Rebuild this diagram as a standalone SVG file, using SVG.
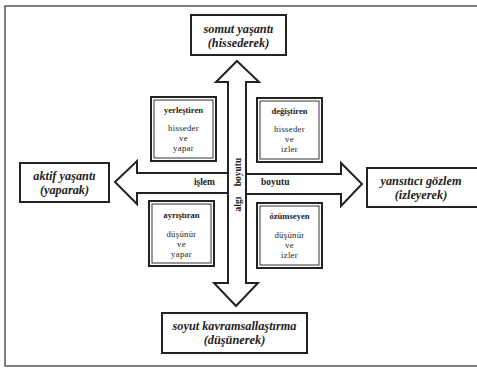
<svg xmlns="http://www.w3.org/2000/svg" width="477" height="369" viewBox="0 0 477 369">
<style>
.frame{fill:none;stroke:#555;stroke-width:1.5}
.box{fill:#fff;stroke:#222;stroke-width:2}
.inner{fill:none;stroke:#333;stroke-width:1}
.arrow{fill:#fff;stroke:#222;stroke-width:2;stroke-linejoin:miter}
text{font-family:"Liberation Serif","Times New Roman","DejaVu Serif",serif;fill:#222}
.main{font-weight:bold;font-style:italic;font-size:12.3px;text-anchor:middle}
.qt{font-weight:bold;font-size:8.6px;text-anchor:middle}
.qb{font-size:8.7px;text-anchor:middle;letter-spacing:0.3px}
.lab{font-weight:bold;font-size:9.5px}
</style>
<rect x="0" y="0" width="477" height="369" fill="#fff"/>
<rect class="frame" x="5" y="6" width="480" height="360"/>
<g id="connectors">
<polyline class="arrow" points="229,173 137,173 137,161 115,182 137,204 137,193 229,193"/>
<polyline class="arrow" points="246,174 341,174 341,163 362,184 341,206 341,194 246,194"/>
<polygon class="arrow" points="237,61 259,82 246,82 246,283 258,283 236,306 214,283 228,283 228,82 216,82"/>
<text class="lab" x="215" y="185" text-anchor="end">işlem</text>
<text class="lab" x="261" y="185">boyutu</text>
<text class="lab" transform="translate(240.5,172) rotate(-90)" text-anchor="middle">boyutu</text>
<text class="lab" transform="translate(240.5,204) rotate(-90)" text-anchor="middle">algı</text>
</g>
<g id="somut">
<rect class="box" x="191" y="15" width="95" height="40"/>
<text class="main" x="238.5" y="33">somut yaşantı</text>
<text class="main" x="238.5" y="47">(hissederek)</text>
</g>
<g id="aktif">
<rect class="box" x="20" y="163" width="89" height="39"/>
<text class="main" x="64.5" y="180">aktif yaşantı</text>
<text class="main" x="64.5" y="194">(yaparak)</text>
</g>
<g id="yansitici">
<rect class="box" x="367" y="168" width="115" height="39"/>
<text class="main" x="421" y="185">yansıtıcı gözlem</text>
<text class="main" x="421" y="199">(izleyerek)</text>
</g>
<g id="soyut">
<rect class="box" x="162" y="313" width="145" height="40"/>
<text class="main" x="234.5" y="330">soyut kavramsallaştırma</text>
<text class="main" x="234.5" y="344">(düşünerek)</text>
</g>
<g id="yerlestiren">
<rect class="box" x="151" y="97" width="65" height="64"/>
<rect class="inner" x="154" y="100" width="59" height="58"/>
<text class="qt" x="183.5" y="113">yerleştiren</text>
<text class="qb" x="183.5" y="131">hisseder</text>
<text class="qb" x="183.5" y="141">ve</text>
<text class="qb" x="183.5" y="151">yapar</text>
</g>
<g id="degistiren">
<rect class="box" x="257" y="98" width="65" height="64"/>
<rect class="inner" x="260" y="101" width="59" height="58"/>
<text class="qt" x="289.5" y="114">değiştiren</text>
<text class="qb" x="289.5" y="132">hisseder</text>
<text class="qb" x="289.5" y="142">ve</text>
<text class="qb" x="289.5" y="152">izler</text>
</g>
<g id="ayristiran">
<rect class="box" x="149" y="201" width="65" height="65"/>
<rect class="inner" x="152" y="204" width="59" height="59"/>
<text class="qt" x="181.5" y="218">ayrıştıran</text>
<text class="qb" x="181.5" y="237">düşünür</text>
<text class="qb" x="181.5" y="247">ve</text>
<text class="qb" x="181.5" y="257">yapar</text>
</g>
<g id="ozumseyen">
<rect class="box" x="257" y="203" width="65" height="65"/>
<rect class="inner" x="260" y="206" width="59" height="59"/>
<text class="qt" x="289.5" y="219">özümseyen</text>
<text class="qb" x="289.5" y="238">düşünür</text>
<text class="qb" x="289.5" y="248">ve</text>
<text class="qb" x="289.5" y="258">izler</text>
</g>
</svg>
